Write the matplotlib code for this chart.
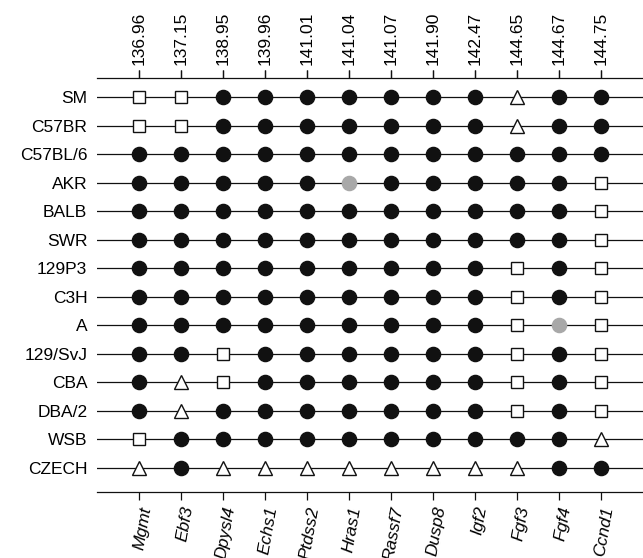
import matplotlib
matplotlib.use("Agg")
import matplotlib.pyplot as plt

plt.rcParams['font.family'] = ['Liberation Sans', 'DejaVu Sans']

genes = ["Mgmt", "Ebf3", "Dpysl4", "Echs1", "Ptdss2", "Hras1", "Rassf7",
         "Dusp8", "Igf2", "Fgf3", "Fgf4", "Ccnd1"]
positions_mb = ["136.96", "137.15", "138.95", "139.96", "141.01", "141.04",
                "141.07", "141.90", "142.47", "144.65", "144.67", "144.75"]
strains = ["SM", "C57BR", "C57BL/6", "AKR", "BALB", "SWR", "129P3", "C3H",
           "A", "129/SvJ", "CBA", "DBA/2", "WSB", "CZECH"]

# Haplotype codes per strain: o = filled, g = grey, s = square, t = triangle
haplotypes = {
    "SM":      "s s o o o o o o o t o o",
    "C57BR":   "s s o o o o o o o t o o",
    "C57BL/6": "o o o o o o o o o o o o",
    "AKR":     "o o o o o g o o o o o s",
    "BALB":    "o o o o o o o o o o o s",
    "SWR":     "o o o o o o o o o o o s",
    "129P3":   "o o o o o o o o o s o s",
    "C3H":     "o o o o o o o o o s o s",
    "A":       "o o o o o o o o o s g s",
    "129/SvJ": "o o s o o o o o o s o s",
    "CBA":     "o t s o o o o o o s o s",
    "DBA/2":   "o t o o o o o o o s o s",
    "WSB":     "s o o o o o o o o o o t",
    "CZECH":   "t o t t t t t t t t o o",
}

styles = {
    "o": dict(marker="o", markersize=10.2, markerfacecolor="#111111", markeredgecolor="#111111"),
    "g": dict(marker="o", markersize=10.2, markerfacecolor="#a8a8a8", markeredgecolor="#a8a8a8"),
    "s": dict(marker="s", markersize=9.2, markerfacecolor="white", markeredgecolor="#111111", markeredgewidth=1.0),
    "t": dict(marker="^", markersize=10.5, markerfacecolor="white", markeredgecolor="#111111", markeredgewidth=1.0),
}

fig = plt.figure(figsize=(6.43, 5.58), dpi=100)
ax = fig.add_axes([97 / 643, 1 - 492 / 558, 1 - 97 / 643, (492 - 78) / 558])

for r, strain in enumerate(strains):
    ax.axhline(r, color="#111111", lw=0.9, zorder=1)
    codes = haplotypes[strain].split()
    for c, code in enumerate(codes):
        ax.plot(c, r, linestyle="none", zorder=3, **styles[code])

ax.set_xlim(-1.0, 12.0)
ax.set_ylim(13.84, -0.666)

for side in ("left", "right"):
    ax.spines[side].set_visible(False)
for side in ("top", "bottom"):
    ax.spines[side].set_linewidth(0.9)
    ax.spines[side].set_color("#111111")

ax.set_yticks(range(len(strains)))
ax.set_yticklabels(strains, fontsize=12.5)
ax.tick_params(axis="y", length=0, pad=7)

ax.set_xticks(range(len(genes)))
ax.set_xticklabels(genes, fontsize=12.5, style="italic", rotation=80,
                   ha="right", rotation_mode="anchor")
ax.tick_params(axis="x", which="both", top=True, bottom=True, direction="out",
               length=5.5, width=0.9, pad=4, color="#111111")

top = ax.secondary_xaxis("top")
top.set_xticks(range(len(genes)))
top.set_xticklabels(positions_mb, fontsize=12.5, rotation=90)
top.tick_params(length=5.5, width=0.9, pad=4, color="#111111")
top.spines["top"].set_visible(False)

fig.savefig("out.png", dpi=100)
